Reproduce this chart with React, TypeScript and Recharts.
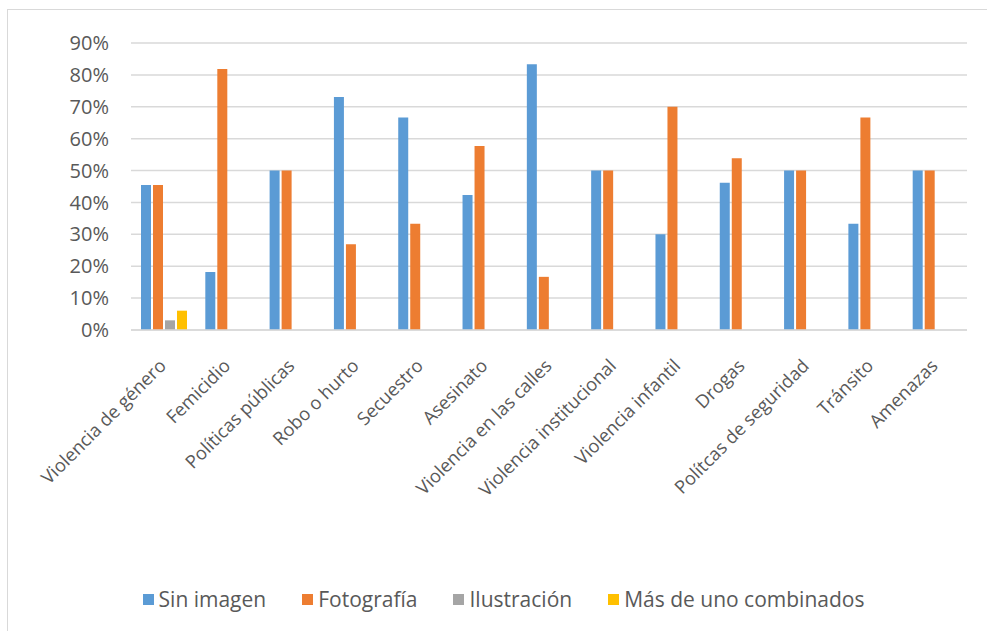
import React from 'react';
import { BarChart, Bar, XAxis, YAxis, CartesianGrid, Legend } from 'recharts';

const categories = [
  'Violencia de género',
  'Femicidio',
  'Políticas públicas',
  'Robo o hurto',
  'Secuestro',
  'Asesinato',
  'Violencia en las calles',
  'Violencia institucional',
  'Violencia infantil',
  'Drogas',
  'Polítcas de seguridad',
  'Tránsito',
  'Amenazas',
];

const sinImagen = [45.45, 18.18, 50, 73.08, 66.67, 42.31, 83.33, 50, 30, 46.15, 50, 33.33, 50];
const fotografia = [45.45, 81.82, 50, 26.92, 33.33, 57.69, 16.67, 50, 70, 53.85, 50, 66.67, 50];
const ilustracion = [3.03, 0, 0, 0, 0, 0, 0, 0, 0, 0, 0, 0, 0];
const masDeUno = [6.06, 0, 0, 0, 0, 0, 0, 0, 0, 0, 0, 0, 0];

const yTicks = [0, 10, 20, 30, 40, 50, 60, 70, 80, 90];

const series = [
  { key: 'sinImagen', name: 'Sin imagen', color: '#5B9BD5' },
  { key: 'fotografia', name: 'Fotografía', color: '#ED7D31' },
  { key: 'ilustracion', name: 'Ilustración', color: '#A5A5A5' },
  { key: 'masDeUno', name: 'Más de uno combinados', color: '#FFC000' },
];

const data = categories.map((name, i) => ({
  name,
  sinImagen: sinImagen[i],
  fotografia: fotografia[i],
  ilustracion: ilustracion[i],
  masDeUno: masDeUno[i],
}));

const FONT = '"Open Sans", sans-serif';
const TEXT = '#595959';
const GRID = '#d9d9d9';

const CategoryTick = (props: any) => {
  const { x, y, payload } = props;
  return (
    <text
      transform={`translate(${x + 4},${y + 29}) rotate(-45)`}
      textAnchor="end"
      fill={TEXT}
      fontSize={18.3}
      fontFamily={FONT}
    >
      {payload.value}
    </text>
  );
};

const LegendContent = () => (
  <div
    style={{
      display: 'flex',
      justifyContent: 'center',
      paddingLeft: 32,
      fontFamily: FONT,
      fontSize: 21,
      color: TEXT,
    }}
  >
    {series.map((s) => (
      <div key={s.key} style={{ display: 'flex', alignItems: 'center', margin: '0 18px' }}>
        <span style={{ width: 11, height: 11, background: s.color, marginRight: 5, display: 'inline-block' }} />
        <span>{s.name}</span>
      </div>
    ))}
  </div>
);

const App: React.FC = () => {
  return (
    <div
      style={{
        position: 'absolute',
        left: 7,
        top: 9,
        width: 980,
        height: 622,
        overflow: 'hidden',
        borderTop: `1.5px solid ${GRID}`,
        borderLeft: `1.5px solid ${GRID}`,
        background: '#fff',
      }}
    >
      <BarChart
        width={994}
        height={620}
        data={data}
        margin={{ top: 33, right: 35, left: 0, bottom: 17 }}
        barCategoryGap={10}
        barGap={2}
      >
        <CartesianGrid vertical={false} stroke={GRID} strokeWidth={1.5} />
        <XAxis
          dataKey="name"
          interval={0}
          height={255}
          tickLine={false}
          axisLine={{ stroke: GRID, strokeWidth: 1.5 }}
          tick={<CategoryTick />}
        />
        <YAxis
          width={123}
          domain={[0, 90]}
          ticks={yTicks}
          interval={0}
          axisLine={false}
          tickLine={false}
          tickMargin={16}
          tickFormatter={(v: number) => `${v}%`}
          tick={{ fill: TEXT, fontSize: 20, fontFamily: FONT }}
        />
        <Legend verticalAlign="bottom" content={<LegendContent />} />
        {series.map((s) => (
          <Bar key={s.key} dataKey={s.key} name={s.name} fill={s.color} isAnimationActive={false} />
        ))}
      </BarChart>
    </div>
  );
};

export default App;
